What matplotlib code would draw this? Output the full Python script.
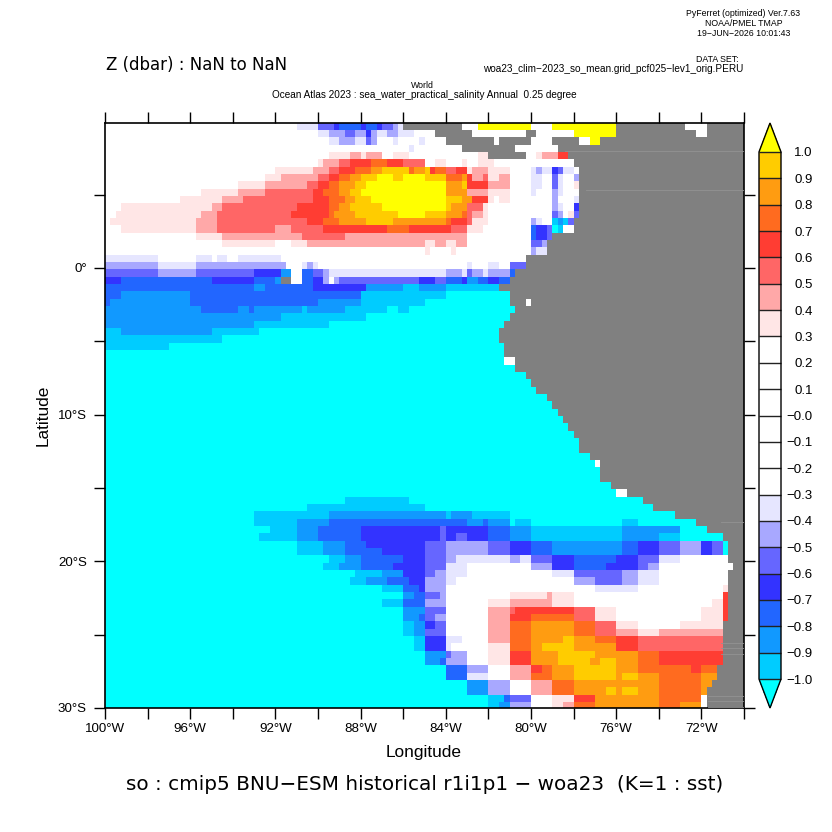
"""
so : cmip5 BNU-ESM historical r1i1p1 - woa23 (K=1 : sst), PyFerret style shaded map
"""
import re

import numpy as np
import matplotlib
matplotlib.use('Agg')
import matplotlib.pyplot as plt
from matplotlib.colors import ListedColormap, BoundaryNorm

W = 832

# contour levels and fill colours (lowest extension first)
levels = np.round(np.arange(-1.0, 1.01, 0.1), 1)
colors = ['#00ffff', '#00ccff', '#1199ff', '#2266ff', '#3333ff', '#6666ff',
          '#a8a8ff', '#e6e6ff', '#ffffff', '#ffffff', '#ffffff', '#ffffff',
          '#ffffff', '#ffffff', '#ffe6e6', '#ffa8a8', '#ff6666', '#ff3d33',
          '#ff6b1f', '#ff9c11', '#ffcc00', '#ffff00']

# one letter per colour band, value is the middle of the band
band_values = {
    'h': -1.05, 'g': -0.95, 'f': -0.85, 'e': -0.75, 'd': -0.65, 'c': -0.55,
    'b': -0.45, 'a': -0.35, '.': 0.0, 'A': 0.35, 'B': 0.45, 'C': 0.55,
    'D': 0.65, 'E': 0.75, 'F': 0.85, 'G': 0.95, 'H': 1.05, '#': np.nan,
}

# field: one row per 0.5 deg of latitude from the top,
# run lengths in 0.25 deg of longitude from 100W, '#' is land (missing)
rows = [
    "36. 4a 3c 1d 4e 1d 2e 1d 2c 1b 1a 11# 3. 10H 4. 12H 13# 4. 7#",
    "40. 2a 3b 2c 2b 1d 1b 2a 2b 3a 4. 7# 10. 2# 7. 8H 15# 2. 7#",
    "42. 2a 3b 2a 1c 1b 3. 1a 4. 1a 4. 9# 1. 6# 4. 5# 2. 2H 27#",
    "57. 1a 9. 10# 8. 35#",
    "42. 4A 2B 1A 3B 2. 3A 13. 2A 7# 2. 1A 3B 2D 33#",
    "40. 1A 3B 2C 4D 3E 3D 3C 1C 2. 2A 3. 1A 2. 3A 15. 32#",
    "32. 7A 3B 2C 3D 3E 2F 5G 1E 2F 1G 1D 2E 2C 2D 1A 3B 4A 4. 1a 1b 2a 1d 1c 2a 1. 31#",
    "30. 3A 7B 2C 2D 2E 2F 3G 3H 2G 4H 4G 3E 1F 1D 2B 1C 2A 2B 4. 2a 2. 1c 1a 2. 1b 31#",
    "25. 5A 8B 2C 2D 2E 3F 2G 15H 3F 1G 4D 4B 4. 2a 2. 1c 1a 2. 1A 31#",
    "18. 7A 5B 9C 2D 3E 2F 2G 16H 4F 4B 4A 4. 1a 3. 1b 1a 2. 1. 31#",
    "14. 8A 4B 13C 3D 3E 2F 3G 14H 3G 2F 3D 1A 1. 2A 8. 1b 3. 1a 31#",
    "3. 17A 2B 14C 6D 2E 2F 6G 12H 1G 3F 3C 1A 12. 1b 1a 2. 1d 31#",
    "2. 16A 3B 14C 7D 1E 4F 8G 5H 4G 3F 1E 1C 2B 1A 12. 1c 1b 1. 1A 1c 31#",
    "1. 16A 4B 17C 3D 3E 5F 5G 10F 1E 3D 1C 3A 8. 1b 1a 2. 1g 1f 1g 1c 32#",
    "3. 14A 4B 11C 3B 6C 12D 4E 8D 3C 3A 9. 1e 2d 1c 1h 1g 2. 32#",
    "17. 5A 15B 8C 23B 12. 1e 2d 1c 36#",
    "22. 10A 3. 3A 22B 2A 2B 2A 2B 12. 2c 1b 37#",
    "60. 1A 4. 1A 14. 1b 2a 37#",
    "10a 7. 3a 1. 2a 2. 8a 46. 41#",
    "10b 7a 17b 3. 1a 1b 1a 28. 1a 3. 2a 2. 3c 41#",
    "10c 7b 11c 5d 2f 2. 2e 2c 1b 22a 3b 1a 1c 2b 1a 4b 1e 43#",
    "3d 17e 8d 4e 1f 2# 2. 2e 2d 1b 1. 1b 15c 3d 2c 3e 1d 2f 2e 2d 2e 44#",
    "28e 2f 9e 10d 7f 3g 5f 10g 46#",
    "3e 13f 32e 16g 12h 44#",
    "1e 15f 24e 8f 12g 16h 3# 1. 40#",
    "18f 7e 2f 1e 9f 1g 7f 8g 2h 2g 20h 43#",
    "33f 16g 27h 44#",
    "28f 14g 33h 45#",
    "3g 17f 9g 45h 46#",
    "22g 52h 46#",
    "12g 63h 45#",
    "75h 45#",
    "75h 2. 43#",
    "77h 43#",
    "79h 41#",
    "80h 40#",
    "81h 39#",
    "83h 37#",
    "84h 36#",
    "85h 35#",
    "86h 34#",
    "87h 33#",
    "88h 32#",
    "89h 31#",
    "89h 31#",
    "91h 29#",
    "92h 1. 27#",
    "93h 27#",
    "93h 27#",
    "95h 25#",
    "96h 2. 22#",
    "45h 12g 44h 19#",
    "38h 22g 43h 17#",
    "28h 14g 22f 1g 4f 7g 31h 13#",
    "28h 8g 6f 26e 3f 1e 4f 1h 3g 17h 3g 11h 9#",
    "31h 5g 4f 8e 15d 1c 8d 4e 4f 17g 11f 5h 7#",
    "29h 7g 4f 8e 15d 1c 2d 2c 4d 4e 4f 17g 7f 4g 8h 4#",
    "36h 5g 4f 4e 11d 4c 8b 4c 4d 4e 13f 3e 4d 4c 4b 2d 2c 1h 3#",
    "36h 5g 4f 7e 8d 4c 8b 4c 4d 4e 13f 3e 4d 4c 4b 2d 2c 1h 3#",
    "42h 3g 3f 8e 4d 4c 2b 10a 2b 2a 4c 4d 8e 4d 4c 4a 9. 3#",
    "41h 3g 4f 6e 6d 4c 4a 12. 4b 4d 6e 6d 2c 2b 14. 2#",
    "47h 5g 4f 4d 2c 2b 4a 16. 4a 9c 3b 4a 13. 3#",
    "46h 3g 4f 4e 3d 4b 2a 22. 4b 5c 3b 4a 13. 3#",
    "52h 4g 3e 1d 4b 28. 8a 16. 1A 3#",
    "56h 2f 2e 3c 1b 12. 7A 1B 4A 28. 1D 3#",
    "52h 4g 4e 4b 8. 4A 8B 4A 26. 2A 1D 3#",
    "56h 4f 4c 8. 4B 1C 11D 4C 4A 16. 4A 1D 3#",
    "56h 3f 1e 2c 2b 8. 4B 4D 8E 4C 4A 16. 4A 1D 3#",
    "56h 2g 2f 2d 2c 8. 4B 4E 8F 4E 4C 4A 8. 8A 4#",
    "56h 2g 2f 4c 8. 4B 4E 8F 4E 4C 4B 4A 12B 4#",
    "58h 2g 4d 3a 5. 4B 4E 6F 2G 4F 4E 4D 16C 4#",
    "58h 2g 4d 1a 7. 4A 4E 2F 6G 8F 4D 16C 4#",
    "60h 4f 1c 3b 4. 4A 4D 5F 7G 8F 4E 12D 4#",
    "60h 3f 1e 4b 4. 4A 4D 5F 6G 2F 3G 4F 4E 12D 4#",
    "64h 4e 4b 4. 4B 2D 2E 4F 8G 4F 10E 2D 3E 5#",
    "64h 4e 4a 4. 4B 4E 4F 8G 1F 3G 4F 8E 3F 5#",
    "68h 4f 4b 4. 4B 4E 16F 8E 2F 6#",
    "68h 4f 4b 4. 4B 4E 6F 2G 1F 3G 4F 8E 1F 7#",
    "72h 3g 1e 4c 4. 4A 4D 12F 8E 1. 7#",
    "72h 2g 2f 4b 4. 2A 2B 4E 12F 4E 4F 1. 7#",
]

lon_start, lon_step = -100.0, 0.25
lat_start, lat_step = 9.9, -0.5

x_major = [-100, -96, -92, -88, -84, -80, -76, -72]
x_labels = ['100°W', '96°W', '92°W', '88°W', '84°W', '80°W', '76°W', '72°W']
y_major = [0, -10, -20, -30]
y_labels = ['0°', '10°S', '20°S', '30°S']

# faint lines left by the plotting device inside the land area (lat, west end)
land_streaks = [(7.98, -78.4), (5.32, -77.4), (-17.3, -71.1), (-25.6, -71.1),
                (-25.9, -71.1), (-26.3, -71.1), (-29.2, -71.7), (-29.5, -71.7),
                (-29.9, -71.7)]


def decode(row):
    out = []
    for n, c in re.findall(r'(\d+)(\S)', row):
        out += [band_values[c]] * int(n)
    assert len(out) == 120, row
    return out


def px(x, y):
    return x / W, 1 - y / W


z = np.array([decode(r) for r in rows])
lon_edges = lon_start + lon_step * np.arange(z.shape[1] + 1)
lat_edges = lat_start + lat_step * np.arange(z.shape[0] + 1)

cmap = ListedColormap(colors[1:-1])
cmap.set_under(colors[0])
cmap.set_over(colors[-1])
norm = BoundaryNorm(levels, cmap.N)

fig = plt.figure(figsize=(8.32, 8.32), dpi=100)
ax = fig.add_axes([105 / W, 1 - 708 / W, 639 / W, 585 / W])
ax.set_facecolor('#808080')
mesh = ax.pcolormesh(lon_edges, lat_edges, z, cmap=cmap, norm=norm,
                     shading='flat', linewidth=0, rasterized=True)
for lat, lon in land_streaks:
    ax.plot([lon, -70], [lat, lat], color='#939393', lw=0.6, zorder=3)

ax.set_xlim(-100, -70)
ax.set_ylim(-30, 9.88)
ax.set_xticks(np.arange(-100, -69, 2))
ax.set_xticklabels([x_labels[x_major.index(v)] if v in x_major else ''
                    for v in np.arange(-100, -69, 2)])
ax.set_yticks(np.arange(-30, 10, 5))
ax.set_yticklabels([y_labels[y_major.index(v)] if v in y_major else ''
                    for v in np.arange(-30, 10, 5)])
ax.tick_params(direction='out', length=7.6, width=1.0, top=True, right=True,
               labelsize=9.6)
ax.tick_params(axis='x', pad=3)
ax.tick_params(axis='y', pad=5.5)
for lab in ax.get_xticklabels() + ax.get_yticklabels():
    lab.set_family('Liberation Sans')
for sp in ax.spines.values():
    sp.set_linewidth(1.2)

# colour key, triangles included in the axes height
cax = fig.add_axes([759 / W, 1 - 708 / W, 22 / W, 585 / W])
cb = fig.colorbar(mesh, cax=cax, extend='both', extendfrac=29 / 528,
                  drawedges=True, ticks=levels)
cb.dividers.set_color('#222222')
cb.dividers.set_linewidth(1.0)
cb.outline.set_linewidth(1.0)
cax.set_yticklabels([f'{v:.1f}'.replace('-', '\u2212') for v in levels])
cax.tick_params(length=0, labelsize=9.5, pad=23)
for lab in cax.get_yticklabels():
    lab.set_ha('right')
    lab.set_family('Liberation Sans')

# header and axis titles
small = dict(family='Liberation Sans', fontsize=6.3, color='black')
wide = dict(family='Liberation Sans', fontsize=7.2, color='black')
fig.text(*px(743.5, 14), 'PyFerret (optimized) Ver.7.63', ha='center', va='center', **small)
fig.text(*px(743.5, 23), 'NOAA/PMEL TMAP', ha='center', va='center', **small)
fig.text(*px(743.5, 33), '19\u2212JUN\u22122026 10:01:43', ha='center', va='center', **small)
fig.text(*px(739, 59), 'DATA SET:', ha='right', va='center', **small)
fig.text(*px(743, 69), 'woa23_clim\u22122023_so_mean.grid_pcf025\u2212lev1_orig.PERU',
         ha='right', va='center', **wide)
fig.text(*px(422.5, 86), 'World', ha='center', va='center', **small)
fig.text(*px(424.5, 95.5), 'Ocean Atlas 2023 : sea_water_practical_salinity Annual  0.25 degree',
         ha='center', va='center', **wide)
fig.text(*px(106, 65.5), 'Z (dbar) : NaN to NaN', ha='left', va='center',
         family='DejaVu Sans', fontsize=12)
fig.text(*px(424, 752), 'Longitude', ha='center', va='center',
         family='Liberation Sans', fontsize=12.4)
fig.text(*px(43, 415), 'Latitude', ha='center', va='center', rotation=90,
         family='Liberation Sans', fontsize=12.4)
fig.text(*px(425, 784), 'so : cmip5 BNU\u2212ESM historical r1i1p1 \u2212 woa23  (K=1 : sst)',
         ha='center', va='center', family='DejaVu Sans', fontsize=14.4)

fig.savefig('out.png', dpi=100)
